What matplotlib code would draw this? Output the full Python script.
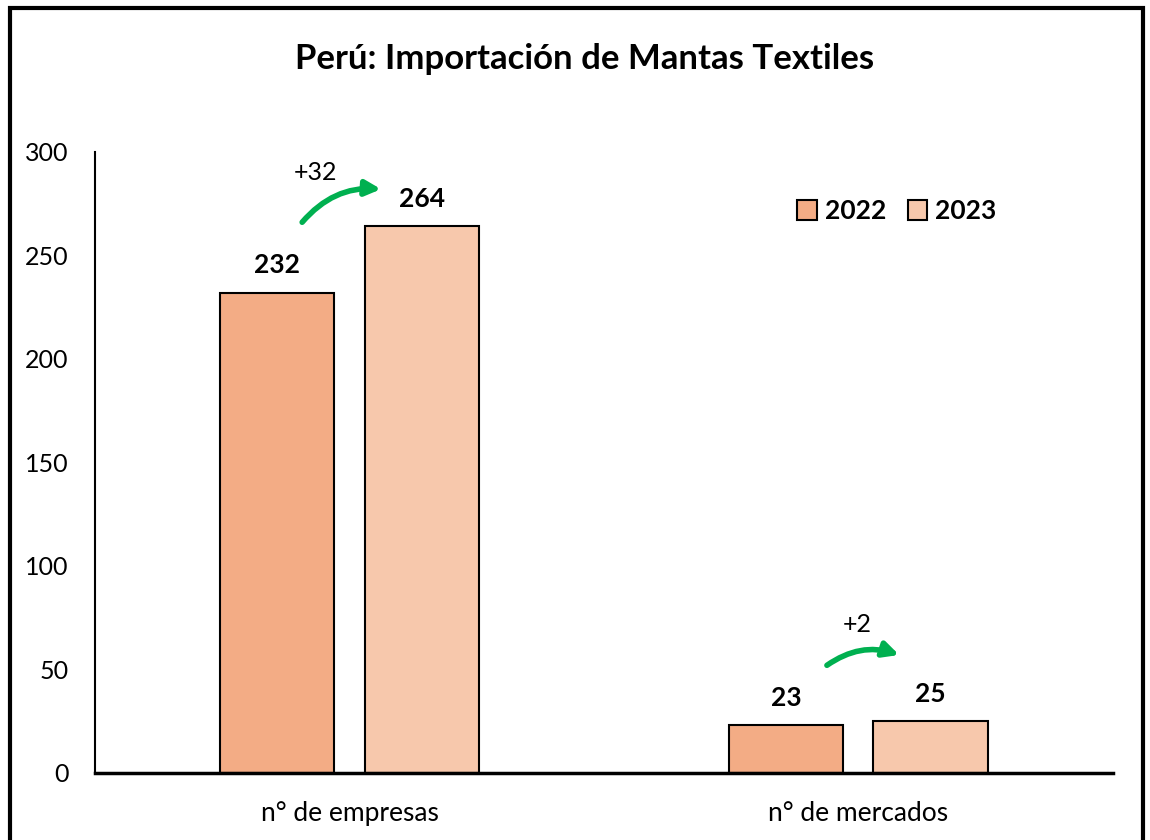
import matplotlib
matplotlib.use('Agg')
import matplotlib.pyplot as plt
from matplotlib.patches import Rectangle
import numpy as np

plt.rcParams['font.family'] = ['Lato', 'DejaVu Sans']

categories = ['n° de empresas', 'n° de mercados']
years = ['2022', '2023']
values_2022 = [232, 23]
values_2023 = [264, 25]
changes = ['+32', '+2']
colors = ['#F3AC85', '#F7C8AC']

fig = plt.figure(figsize=(11.5, 8.4), dpi=100)
ax = fig.add_axes([0.0826, 0.0798, 0.8852, 0.7394])

x = np.arange(len(categories))
w = 0.225
off = 0.142
b1 = ax.bar(x - off, values_2022, w, color=colors[0], edgecolor='black', linewidth=1.5, label=years[0])
b2 = ax.bar(x + off, values_2023, w, color=colors[1], edgecolor='black', linewidth=1.5, label=years[1])

for bars in (b1, b2):
    for r in bars:
        ax.annotate(f'{int(r.get_height())}', (r.get_x() + r.get_width() / 2, r.get_height()),
                    xytext=(0, 11), textcoords='offset points', ha='center', va='bottom',
                    fontsize=19, fontweight='bold')

# green arrows showing the change
arrows = [((-0.093, 266), (0.062, 282), (-0.066, 290)),
          ((0.938, 52), (1.08, 57), (0.997, 71.5))]
for (start, end, txt), ch in zip(arrows, changes):
    ax.annotate('', xy=end, xytext=start,
                arrowprops=dict(arrowstyle='-|>,head_length=0.9,head_width=0.45', color='#00B050',
                                lw=4, connectionstyle='arc3,rad=-0.25', shrinkA=0, shrinkB=0))
    ax.text(txt[0], txt[1], ch, ha='center', va='center', fontsize=18)

ax.set_xlim(-0.5, 1.5)
ax.set_ylim(0, 300)
ax.set_yticks(range(0, 301, 50))
ax.set_xticks(x)
ax.set_xticklabels(categories, fontsize=19)
ax.tick_params(axis='both', length=0)
ax.tick_params(axis='y', pad=19, labelsize=18)
ax.tick_params(axis='x', pad=20)
for s in ['top', 'right']:
    ax.spines[s].set_visible(False)
ax.spines['left'].set_linewidth(1.5)
ax.spines['bottom'].set_linewidth(2.5)

leg = ax.legend(loc='upper right', bbox_to_anchor=(0.909, 0.962), ncol=2, frameon=False,
                prop={'weight': 'bold', 'size': 19}, handlelength=0.75, handleheight=0.75,
                handletextpad=0.3, columnspacing=0.8)

fig.text(0.508, 0.93, 'Perú: Importación de Mantas Textiles', ha='center', va='center',
         fontsize=25, fontweight='bold')

fig.patches.append(Rectangle((10 / 1150, -0.05), 1133 / 1150, 1.0405, transform=fig.transFigure,
                             fill=False, edgecolor='black', linewidth=3))

fig.savefig('out.png', dpi=100)
